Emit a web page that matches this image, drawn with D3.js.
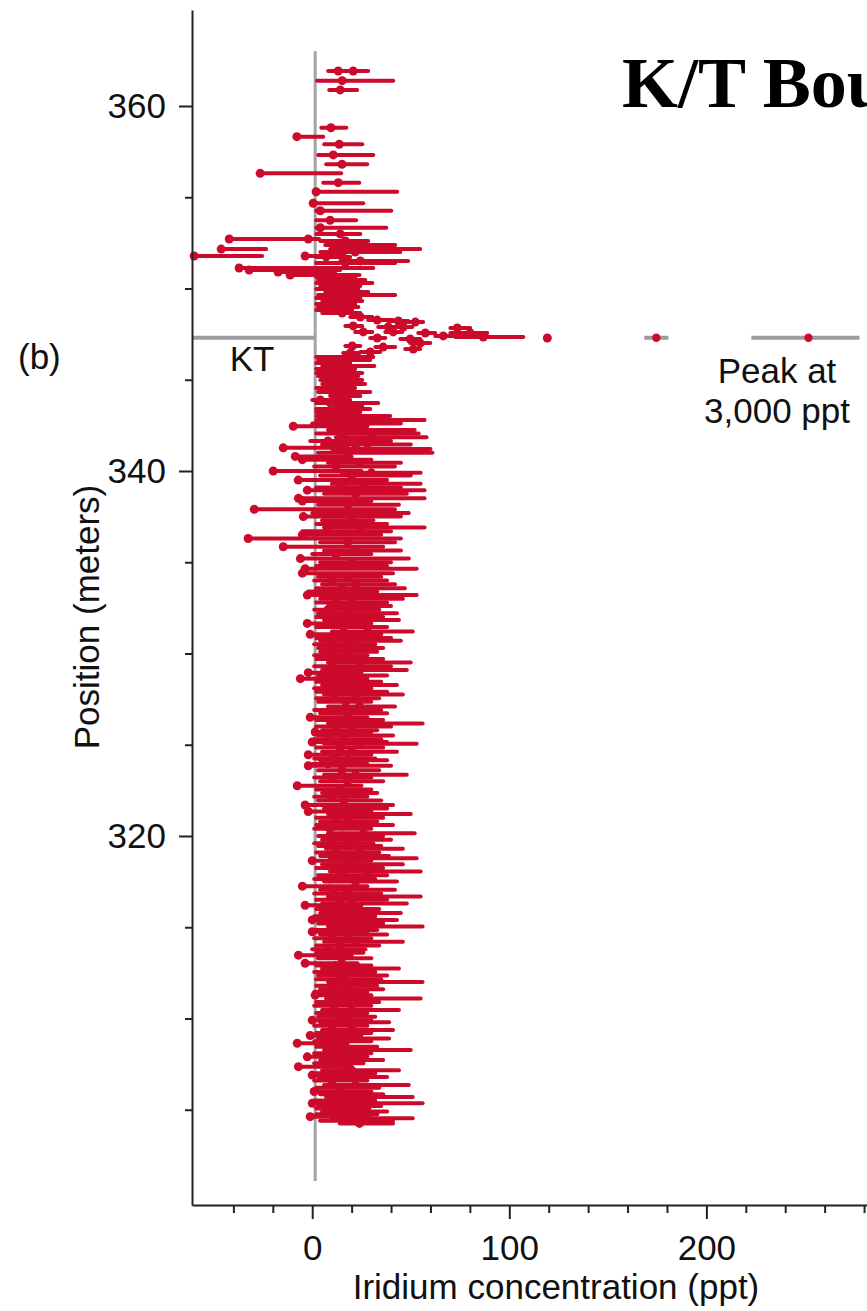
<!DOCTYPE html>
<html>
<head>
<meta charset="utf-8">
<script src="https://cdn.jsdelivr.net/npm/d3@7"></script>
<style>
  html, body { margin: 0; padding: 0; background: #fff; }
  svg { display: block; }
</style>
</head>
<body>
<svg id="chart" width="867" height="1311"></svg>
<script>
// ---------------- DATA ----------------
// Stratigraphic position (m) of each sample
const position = [
  361.92,361.92,361.39,360.88,358.81,358.32,357.90,357.32,356.81,356.31,355.80,355.30,354.67,354.26,353.74,353.33,
  352.99,352.71,352.71,352.60,352.38,352.16,352.16,352.00,351.78,351.78,351.73,351.51,351.40,351.12,351.01,350.90,350.74,350.63,350.47,350.30,350.14,349.97,349.81,349.64,349.48,349.32,349.15,348.99,348.82,348.66,
  348.44,348.27,348.22,348.16,347.95,347.89,347.89,347.84,347.62,347.62,347.56,347.56,347.40,347.34,347.29,347.29,347.23,347.01,346.85,346.79,346.68,346.52,346.47,
  346.25,346.08,345.92,345.75,345.59,345.37,345.21,344.99,344.77,344.55,344.33,344.11,343.89,343.73,343.56,343.40,343.23,343.01,
  342.8,342.6,342.45,342.25,342.05,341.85,341.65,341.45,341.27,341.2,
  341.0,340.8,340.62,340.45,340.25,340.0,339.9,339.75,339.5,339.3,
  339.1,338.95,338.75,338.5,338.35,338.15,337.9,337.7,337.5,337.3,
  337.1,336.9,336.7,336.5,336.3,336.1,335.85,335.65,335.45,335.2,
  335.0,334.8,334.65,334.4,334.2,334.0,333.8,333.57,333.4,333.2,
  333.0,332.8,332.6,332.4,332.2,332.0,331.83,331.65,331.45,331.2,
  331.05,330.85,330.7,330.5,330.3,330.1,329.9,329.7,329.5,329.3,
  329.1,328.95,328.8,328.62,328.45,328.27,328.1,327.9,327.75,327.55,
  327.35,327.1,326.9,326.72,326.5,326.35,326.17,326.0,325.8,325.7,
  325.5,325.3,325.15,325.05,324.85,324.62,324.45,324.25,324.15,323.95,
  323.85,323.6,323.35,323.2,
  323.0,322.75,322.55,322.35,322.15,321.95,321.7,321.5,321.34,321.2,
  321.0,320.8,320.6,320.4,320.15,320.0,319.8,319.6,319.45,319.3,
  319.1,318.9,318.78,318.65,318.45,318.25,318.05,317.85,317.65,317.5,
  317.25,317.05,316.85,316.68,316.5,316.3,316.2,316.0,315.78,315.6,
  315.4,315.2,315.04,314.85,314.75,314.6,314.4,314.2,314.0,313.8,
  313.6,313.47,313.3,
  313.02,312.9,312.74,312.55,312.35,312.15,312.0,311.8,311.6,311.45,
  311.28,311.1,310.9,310.7,310.46,310.3,310.1,309.91,309.8,309.6,
  309.37,309.2,309.07,308.9,308.75,308.64,308.45,308.27,308.1,307.9,
  307.72,307.55,307.36,307.17,307.0,306.9,306.8,306.6,306.35,306.2,
  306.0,305.85,305.7,305.5,305.35,305.2,305.07,304.9,304.75,304.62,
  304.53,304.4,304.25
];
// Iridium concentration (ppt)
const iridium = [
  13.2,20.8,15.2,14.2,9.5,-7.8,13.7,10.7,15.1,-26.4,13.2,2.0,0.5,4.1,9.1,4.1,
  14.2,-42.1,-2.0,16.8,19.3,-46.2,29.4,21.8,-59.9,-3.6,7.1,24.4,16.8,-37.1,-32.0,-17.3,-11.2,9.1,11.7,6.6,14.2,9.1,16.8,11.7,8.1,14.2,10.2,13.2,9.1,15.2,
  24.4,33.0,43.7,52.3,20.8,38.6,46.2,73.6,25.9,41.1,57.4,80.2,66.5,86.8,119.3,33.0,49.7,54.8,20.3,36.0,51.3,29.4,19.3,
  22.8,14.2,11.7,16.8,8.1,13.2,9.1,14.2,11.7,6.6,10.2,16.8,4.1,9.1,19.3,12.2,6.6,16.8,
  20,12,-9.6,25,15,30,8,22,-14.7,28,
  18,-8.6,-5,24,12,-19.8,30,20,-7.1,26,
  15,-2.5,22,-7,-5,18,-29.4,10,-4.5,20,
  15,25,8,-5,-32.5,18,-14.7,22,12,-6,
  20,14,-3.6,-5,18,10,22,15,8,-2.5,
  20,12,25,8,18,14,22,-2.5,16,28,
  -1,12,20,9,15,18,8,14,24,10,
  20,-2,16,-6,12,20,9,15,22,11,
  17,24,10,18,-1,14,28,12,20,1.5,
  16,9,0,24,14,20,-2,11,18,8,
  -2,15,22,10,
  18,-7.6,14,20,10,16,-3.6,22,-2,25,
  12,18,14,9,26,15,20,10,17,24,
  12,18,27,0,20,12,28,15,9,22,
  -5,18,11,26,14,20,-3.6,12,19,9,
  0,16,25,11,0,18,10,22,14,8,
  12,-7,15,
  -3.6,12,20,10,17,14,26,12,18,9,
  1.5,24,14,11,20,12,16,0,18,10,
  20,14,-1,17,10,-7.6,14,22,11,-2.5,
  18,9,-7,20,12,0,16,10,22,14,
  1,18,24,10,0,16,12,20,14,-1,
  28,18,24
];
// Lower end of error bar (ppt)
const errLow = [
  8.1,16.8,2.5,8.6,4.6,-7.8,6.1,3.0,7.1,-26.4,5.6,2.0,0.5,2.0,2.0,2.0,
  2.0,-42.1,-3.5,4.1,6.6,-46.2,9.1,4.1,-59.9,-3.6,2.0,14.2,2.0,-37.1,-32.0,-17.3,-11.2,2.0,3.0,2.0,4.1,2.0,6.6,3.0,2.0,5.1,2.0,3.0,2.0,5.1,
  19.3,28.4,38.6,47.2,16.8,33.5,42.1,70.1,21.8,37.1,53.8,70.1,62.4,72.6,119.3,29.4,44.7,49.7,16.8,32.0,47.2,24.4,15.7,
  2.0,3.0,2.0,5.1,2.0,2.0,3.0,4.1,5.1,2.0,3.0,9.1,0.0,2.0,11.7,2.0,2.0,2.0,
  2,0,-9.6,8,2,12,-1,5,-14.7,10,
  3,-8.6,-5,8,1,-19.8,15,4,-7.1,10,
  2,-2.5,6,-7,-5,3,-29.4,0,-4.5,5,
  2,6,-5,-5,-32.5,4,-14.7,6,0,-6,
  4,2,-3.6,-5,3,1,5,2,-2,-2.5,
  4,2,8,1,3,2,6,-2.5,2,10,
  -1,2,4,1,3,4,1,2,8,1,
  5,-2,3,-6,2,5,1,2,6,2,
  3,8,1,4,-1,2,8,2,5,1.5,
  3,1,0,6,2,5,-2,1,4,0,
  -2,3,6,1,
  4,-7.6,2,5,1,3,-3.6,6,-2,8,
  2,4,2,1,8,3,5,1,3,7,
  2,4,9,0,5,2,9,3,1,6,
  -5,4,1,8,2,5,-3.6,2,4,1,
  0,3,8,1,0,4,1,6,2,0,
  2,-7,3,
  -3.6,2,5,1,3,2,8,2,4,1,
  1.5,7,2,1,5,2,3,0,4,1,
  5,2,-1,3,1,-7.6,2,6,1,-2.5,
  4,1,-7,5,2,0,3,1,6,2,
  1,4,7,1,0,3,2,5,2,-1,
  10,4,14
];
// Upper end of error bar (ppt)
const errHigh = [
  19.3,28.4,41.1,22.8,17.3,5.6,25.4,31.0,27.9,14.7,23.9,43.1,25.9,40.1,22.3,37.6,
  24.4,-2.0,3.5,28.4,42.1,-23.4,54.8,44.7,-25.4,16.8,19.3,48.7,42.1,31.0,14.2,11.7,24.0,21.8,26.9,30.5,24.4,23.4,28.4,42.1,24.4,25.4,21.8,23.4,20.3,24.4,
  30.5,41.1,48.7,56.3,25.4,43.7,50.8,80.2,30.5,45.7,62.4,88.8,72.6,107.1,119.3,37.1,54.8,59.9,24.4,42.1,54.8,34.5,23.4,
  31.0,29.4,19.3,31.5,21.8,25.4,23.4,25.4,26.9,21.8,29.4,24.4,19.3,33.5,25.4,29.4,24.4,39.6,
  57,45,28,52,54,58,40,50,18,60,
  61,20,30,45,42,25,55,50,38,55,
  45,57,48,57,30,44,42,49,45,31,
  38,57,40,35,45,42,36,45,30,49,
  40,38,53,41,35,38,42,47,33,53,
  46,38,40,34,43,36,44,30,38,51,
  35,40,45,32,36,33,28,36,50,40,
  48,25,38,28,35,43,30,38,46,34,
  30,42,35,38,28,36,56,40,33,30,
  41,35,38,53,36,43,30,32,38,28,
  40,34,48,30,
  36,25,30,33,28,35,41,38,30,50,
  36,33,41,30,52,36,40,31,35,46,
  34,39,53,30,46,36,55,38,32,43,
  28,42,35,55,38,48,25,34,45,32,
  43,36,56,33,28,38,30,46,34,27,
  26,20,30,
  23,30,44,32,38,35,56,33,36,28,
  30,55,34,30,44,28,32,30,39,28,
  41,30,25,39,30,18,33,50,30,28,
  36,26,20,44,32,30,38,28,49,34,
  30,36,51,32,56,35,29,38,33,26,
  51,41,41
];

// K/T boundary and off-scale peak (broken axis markers)
const ktPosition = 347.3;
const ktSegmentLow = [-61, 168.5, 222.8];
const ktSegmentHigh = [1.5, 180.7, 277.7];
const peakMarkers = [174.6, 251.8];

// zero reference line
const zeroLineValue = 1.5;
const zeroLineExtent = [301.1, 363.0];

// ticks
const yMajorTicks = [320, 340, 360];
const yMinorTicks = [305, 310, 315, 325, 330, 335, 345, 350, 355];
const xMajorTicks = [0, 100, 200];
const xMinorTicks = [-40, -20, 20, 40, 60, 80, 120, 140, 160, 180, 220, 240, 260, 280];

// labels
const titleText = "K/T Boundary";
const panelLabel = "(b)";
const ktLabel = "KT";
const peakLabel = ["Peak at", "3,000 ppt"];
const xTitle = "Iridium concentration (ppt)";
const yTitle = "Position (meters)";

// ---------------- DRAW ----------------
const W = 867, H = 1311;
const RED = "#cc0a2c";
const GRAY = "#a3a3a3";
const FONT = "'Liberation Sans', Arial, Helvetica, sans-serif";

const x = d3.scaleLinear().domain([-61, 281.5]).range([192, 867]);
const y = d3.scaleLinear().domain([299.78, 365.26]).range([1205, 10]);

const svg = d3.select("#chart");
svg.append("rect").attr("width", W).attr("height", H).attr("fill", "#fff");

const samples = position.map((p, i) => ({ p, v: iridium[i], lo: errLow[i], hi: errHigh[i] }));

// zero line
svg.append("line")
  .attr("x1", x(zeroLineValue)).attr("x2", x(zeroLineValue))
  .attr("y1", y(zeroLineExtent[1])).attr("y2", y(zeroLineExtent[0]))
  .attr("stroke", GRAY).attr("stroke-width", 3);

// KT line pieces
svg.append("g").selectAll("line")
  .data(ktSegmentLow.map((lo, i) => ({ lo, hi: ktSegmentHigh[i] })))
  .join("line")
  .attr("x1", d => x(d.lo)).attr("x2", d => x(d.hi))
  .attr("y1", y(ktPosition)).attr("y2", y(ktPosition))
  .attr("stroke", "#9c9c9c").attr("stroke-width", 4);

// error bars
svg.append("g").selectAll("line")
  .data(samples)
  .join("line")
  .attr("x1", d => x(d.lo)).attr("x2", d => x(d.hi))
  .attr("y1", d => y(d.p)).attr("y2", d => y(d.p))
  .attr("stroke", RED).attr("stroke-width", 4).attr("stroke-linecap", "round");

// dots
svg.append("g").selectAll("circle")
  .data(samples)
  .join("circle")
  .attr("cx", d => x(d.v)).attr("cy", d => y(d.p)).attr("r", 4.5)
  .attr("fill", RED);

// peak markers
svg.append("g").selectAll("circle")
  .data(peakMarkers)
  .join("circle")
  .attr("cx", d => x(d)).attr("cy", y(ktPosition)).attr("r", 4.2)
  .attr("fill", RED);

// axes
function styleAxis(g) {
  g.selectAll("path").attr("stroke", "#222").attr("stroke-width", 2);
  g.selectAll("line").attr("stroke", "#222").attr("stroke-width", 2);
  g.selectAll("text").attr("fill", "#111").attr("font-family", FONT).attr("font-size", 35);
}
const yAxisG = svg.append("g").attr("transform", "translate(192,0)")
  .call(d3.axisLeft(y).tickValues(yMajorTicks).tickSize(13).tickSizeOuter(0).tickPadding(13).tickFormat(d3.format("d")));
styleAxis(yAxisG);
const yMinorG = svg.append("g").attr("transform", "translate(192,0)")
  .call(d3.axisLeft(y).tickValues(yMinorTicks).tickSize(7).tickSizeOuter(0).tickFormat(""));
styleAxis(yMinorG);
yMinorG.select("path").remove();

const xAxisG = svg.append("g").attr("transform", "translate(0,1205)")
  .call(d3.axisBottom(x).tickValues(xMajorTicks).tickSize(14).tickSizeOuter(0).tickPadding(16).tickFormat(d3.format("d")));
styleAxis(xAxisG);
const xMinorG = svg.append("g").attr("transform", "translate(0,1205)")
  .call(d3.axisBottom(x).tickValues(xMinorTicks).tickSize(8).tickSizeOuter(0).tickFormat(""));
styleAxis(xMinorG);
xMinorG.select("path").remove();

// texts
function label(txt, px, py, anchor) {
  return svg.append("text").text(txt).attr("x", px).attr("y", py)
    .attr("text-anchor", anchor || "middle")
    .attr("font-family", FONT).attr("font-size", 35).attr("fill", "#111");
}
label(panelLabel, 18, 369, "start");
label(ktLabel, 252, 371);
label(peakLabel[0], 777, 383);
label(peakLabel[1], 777, 423);
label(xTitle, 556, 1299);
svg.append("text").text(yTitle)
  .attr("transform", "translate(99,617) rotate(-90)")
  .attr("text-anchor", "middle")
  .attr("font-family", FONT).attr("font-size", 35).attr("fill", "#111");

svg.append("text").text(titleText)
  .attr("x", 622).attr("y", 107)
  .attr("font-family", "'Liberation Serif', 'Times New Roman', serif")
  .attr("font-weight", "bold").attr("font-size", 72).attr("fill", "#000");
</script>
</body>
</html>
